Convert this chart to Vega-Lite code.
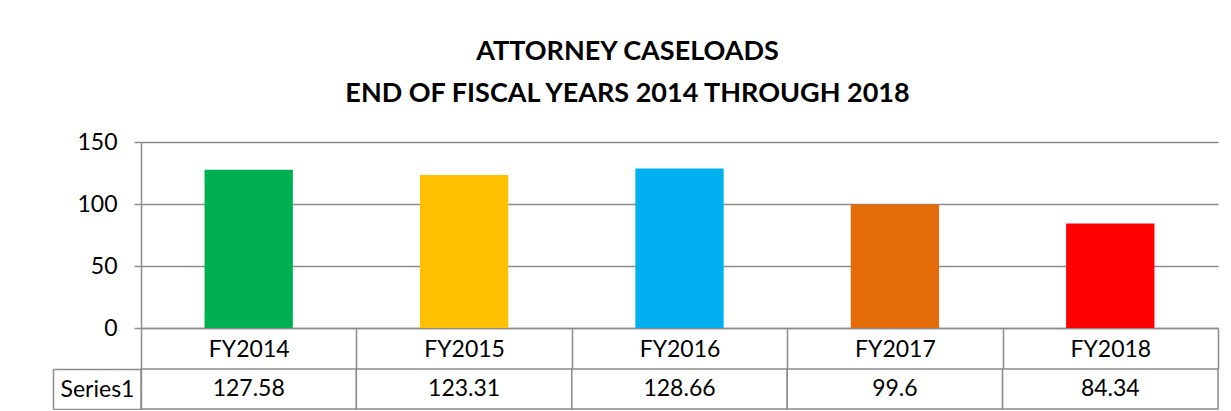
{
  "$schema": "https://vega.github.io/schema/vega-lite/v6.json",
  "background": "white",
  "padding": {"left": 52, "top": 38, "right": 10, "bottom": 0},
  "title": {
    "text": ["ATTORNEY CASELOADS", "END OF FISCAL YEARS 2014 THROUGH 2018"],
    "font": "Lato",
    "fontSize": 27,
    "fontWeight": "bold",
    "color": "black",
    "lineHeight": 42,
    "anchor": "middle",
    "dx": -8,
    "offset": 23
  },
  "data": {
    "values": [
      {"fy": "FY2014", "v": 127.58, "series": "Series1"},
      {"fy": "FY2015", "v": 123.31, "series": "Series1"},
      {"fy": "FY2016", "v": 128.66, "series": "Series1"},
      {"fy": "FY2017", "v": 99.6, "series": "Series1"},
      {"fy": "FY2018", "v": 84.34, "series": "Series1"}
    ]
  },
  "bounds": "flush",
  "spacing": 41,
  "vconcat": [
    {
      "width": 1077,
      "height": 186,
      "mark": {"type": "bar", "width": {"band": 0.41}},
      "encoding": {
        "x": {
          "field": "fy",
          "type": "nominal",
          "sort": null,
          "scale": {"paddingInner": 0, "paddingOuter": 0},
          "axis": {
            "title": null,
            "labelAngle": 0,
            "tickBand": "extent",
            "tickSize": 41,
            "tickColor": "#8c8c8c",
            "tickWidth": 1.5,
            "domainColor": "#8c8c8c",
            "domainWidth": 1.5,
            "labelPadding": -20,
            "labelBaseline": "middle",
            "labelFont": "Lato",
            "labelFontSize": 23,
            "labelColor": "black",
            "grid": false
          }
        },
        "y": {
          "field": "v",
          "type": "quantitative",
          "scale": {"domain": [0, 150], "nice": false},
          "axis": {
            "title": null,
            "values": [0, 50, 100, 150],
            "tickSize": 7,
            "tickColor": "#8c8c8c",
            "tickWidth": 1.5,
            "domainColor": "#8c8c8c",
            "domainWidth": 1.5,
            "gridColor": "#8c8c8c",
            "gridWidth": 1.5,
            "labelPadding": 17,
            "labelFont": "Lato",
            "labelFontSize": 23,
            "labelColor": "black"
          }
        },
        "color": {
          "field": "fy",
          "type": "nominal",
          "sort": null,
          "scale": {"range": ["#00B050", "#FFC000", "#00B0F0", "#E36C09", "#FF0000"]},
          "legend": null
        }
      }
    },
    {
      "width": 1077,
      "height": 40,
      "layer": [
        {
          "mark": {"type": "rect", "fill": "white", "stroke": "#8c8c8c", "strokeWidth": 1.5},
          "encoding": {
            "x": {"field": "fy", "type": "nominal", "sort": null, "scale": {"paddingInner": 0, "paddingOuter": 0}, "axis": null},
            "y": {
              "field": "series",
              "type": "nominal",
              "scale": {"paddingInner": 0, "paddingOuter": 0},
              "axis": {
                "title": null,
                "orient": "left",
                "tickBand": "extent",
                "tickSize": 88,
                "tickColor": "#8c8c8c",
                "tickWidth": 1.5,
                "domainColor": "#8c8c8c",
                "domainWidth": 1.5,
                "labelAlign": "center",
                "labelPadding": -44,
                "labelFont": "Lato",
                "labelFontSize": 23,
                "labelColor": "black"
              }
            }
          }
        },
        {
          "mark": {"type": "text", "font": "Lato", "fontSize": 23, "color": "black"},
          "encoding": {
            "x": {"field": "fy", "type": "nominal", "sort": null},
            "y": {
              "field": "series",
              "type": "nominal",
              "axis": {
                "title": null,
                "orient": "left",
                "offset": 88,
                "ticks": false,
                "labels": false,
                "domainColor": "#8c8c8c",
                "domainWidth": 1.5
              }
            },
            "text": {"field": "v", "type": "nominal"}
          }
        }
      ],
      "resolve": {"axis": {"y": "independent"}}
    }
  ],
  "config": {"view": {"stroke": null}}
}
